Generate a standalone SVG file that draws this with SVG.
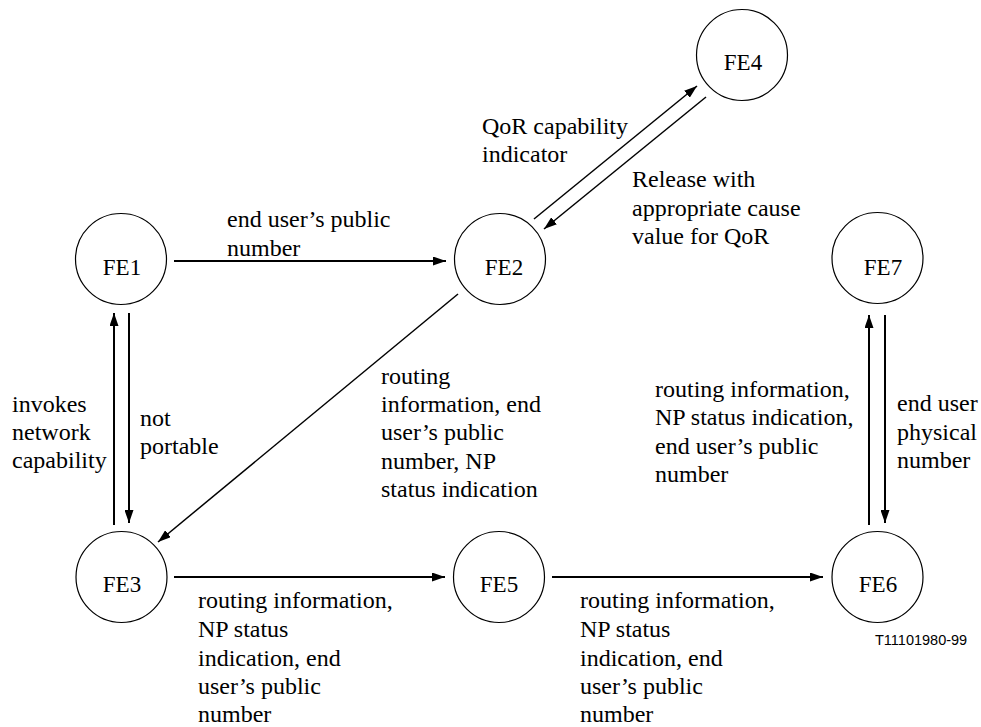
<svg xmlns="http://www.w3.org/2000/svg" width="981" height="727" viewBox="0 0 981 727">
<style>
.node circle{fill:#fff;stroke:#000;stroke-width:1.2}
.node text{font-family:'Liberation Serif','Times New Roman',Times,serif;font-size:23px;text-anchor:middle;fill:#000}
.conn line{stroke:#000;fill:none}
.thick{stroke-width:2}
.thin{stroke-width:1.5}
.lbl{font-family:'Liberation Serif','Times New Roman',Times,serif;font-size:24px;fill:#000}
.code{font-family:'Liberation Sans',Arial,sans-serif;font-size:14.5px;fill:#000}
</style>
<defs>
<marker id="ah" markerUnits="userSpaceOnUse" markerWidth="13" markerHeight="9" refX="13" refY="4.5" orient="auto">
<path d="M0,0 L13,4.5 L0,9 z" fill="#000"/>
</marker>
</defs>
<rect width="981" height="727" fill="#fff"/>
<g id="connectors" class="conn">
<line class="thick" x1="174" y1="261" x2="446" y2="261" marker-end="url(#ah)"/>
<line class="thin" x1="534" y1="219" x2="697" y2="86" marker-end="url(#ah)"/>
<line class="thin" x1="706" y1="97" x2="544" y2="229" marker-end="url(#ah)"/>
<line class="thin" x1="458" y1="294" x2="158" y2="542" marker-end="url(#ah)"/>
<line class="thick" x1="114" y1="525" x2="114" y2="313" marker-end="url(#ah)"/>
<line class="thick" x1="129" y1="313" x2="129" y2="523" marker-end="url(#ah)"/>
<line class="thick" x1="174" y1="577" x2="445" y2="577" marker-end="url(#ah)"/>
<line class="thick" x1="552" y1="577" x2="823" y2="577" marker-end="url(#ah)"/>
<line class="thick" x1="869" y1="525" x2="869" y2="315" marker-end="url(#ah)"/>
<line class="thick" x1="885" y1="315" x2="885" y2="523" marker-end="url(#ah)"/>
</g>
<g id="FE1" class="node"><circle cx="121" cy="259" r="45.5"/><text x="122" y="275">FE1</text></g>
<g id="FE2" class="node"><circle cx="500" cy="259" r="45.5"/><text x="504" y="275">FE2</text></g>
<g id="FE4" class="node"><circle cx="742" cy="55" r="45.5"/><text x="743" y="70">FE4</text></g>
<g id="FE7" class="node"><circle cx="877.5" cy="258" r="45.5"/><text x="883" y="275">FE7</text></g>
<g id="FE3" class="node"><circle cx="121.5" cy="577" r="45.5"/><text x="122" y="592">FE3</text></g>
<g id="FE5" class="node"><circle cx="499" cy="577" r="45.5"/><text x="499" y="592">FE5</text></g>
<g id="FE6" class="node"><circle cx="877.5" cy="577" r="45.5"/><text x="878" y="592">FE6</text></g>
<g id="labels">
<text class="lbl" x="227"><tspan x="227" y="227">end user’s public</tspan><tspan x="227" y="256">number</tspan></text>
<text class="lbl" x="482"><tspan x="482" y="134">QoR capability</tspan><tspan x="482" y="162">indicator</tspan></text>
<text class="lbl" x="632"><tspan x="632" y="187">Release with</tspan><tspan x="632" y="216">appropriate cause</tspan><tspan x="632" y="244">value for QoR</tspan></text>
<text class="lbl" x="12"><tspan x="12" y="412">invokes</tspan><tspan x="12" y="440">network</tspan><tspan x="12" y="468">capability</tspan></text>
<text class="lbl" x="140"><tspan x="140" y="426">not</tspan><tspan x="140" y="454">portable</tspan></text>
<text class="lbl" x="381"><tspan x="381" y="384">routing</tspan><tspan x="381" y="412">information, end</tspan><tspan x="381" y="440">user’s public</tspan><tspan x="381" y="469">number, NP</tspan><tspan x="381" y="497">status indication</tspan></text>
<text class="lbl" x="655"><tspan x="655" y="397">routing information,</tspan><tspan x="655" y="425">NP status indication,</tspan><tspan x="655" y="454">end user’s public</tspan><tspan x="655" y="482">number</tspan></text>
<text class="lbl" x="897"><tspan x="897" y="411">end user</tspan><tspan x="897" y="440">physical</tspan><tspan x="897" y="468">number</tspan></text>
<text class="lbl" x="198"><tspan x="198" y="608">routing information,</tspan><tspan x="198" y="637">NP status</tspan><tspan x="198" y="666">indication, end</tspan><tspan x="198" y="694">user’s public</tspan><tspan x="198" y="722">number</tspan></text>
<text class="lbl" x="580"><tspan x="580" y="608">routing information,</tspan><tspan x="580" y="637">NP status</tspan><tspan x="580" y="666">indication, end</tspan><tspan x="580" y="694">user’s public</tspan><tspan x="580" y="722">number</tspan></text>
<text class="code" x="875" y="645">T11101980-99</text>
</g>
</svg>
